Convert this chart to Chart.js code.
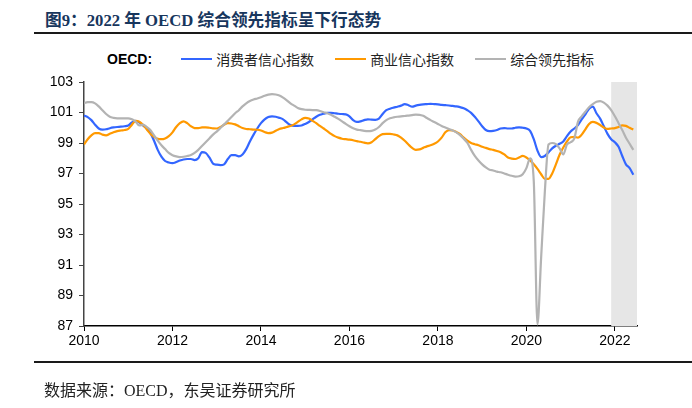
<!DOCTYPE html>
<html lang="zh">
<head>
<meta charset="utf-8">
<script src="https://cdn.jsdelivr.net/npm/chart.js@4.4.1/dist/chart.umd.min.js"></script>
<style>
  html, body { margin: 0; padding: 0; background: #fff; }
  body { width: 692px; height: 408px; position: relative; overflow: hidden; font-family: "Liberation Sans", Arial, sans-serif; }
  #chart { position: absolute; left: 0; top: 0; }
  .title { position: absolute; left: 45px; top: 7px; font: bold 16.7px "Liberation Serif", "Noto Sans CJK SC", serif; color: #17365d; white-space: nowrap; }
  .rule { position: absolute; left: 34px; right: 0; height: 2px; background: #1a1a1a; }
  .legend { position: absolute; left: 107px; top: 49px; display: flex; align-items: center; white-space: nowrap; }
  .legend .head { font: bold 14px "Liberation Sans", Arial, sans-serif; color: #000; margin-right: 29px; }
  .legend .item { display: flex; align-items: center; margin-right: 21px; font: 14px "Noto Sans CJK SC", sans-serif; color: #222; }
  .legend .swatch { width: 31px; height: 2.5px; margin-right: 4px; }
  .source { position: absolute; left: 44px; top: 377px; font: 16px "Liberation Serif", "Noto Sans CJK SC", serif; color: #222; white-space: nowrap; }
</style>
</head>
<body>
<div class="title">图9：2022 年 OECD 综合领先指标呈下行态势</div>
<div class="rule" style="top:32px"></div>
<div class="legend" id="legend"><span class="head">OECD:</span></div>
<canvas id="chart" width="692" height="408"></canvas>
<div class="rule" style="top:361px"></div>
<div class="source">数据来源：OECD，东吴证券研究所</div>
<script>
// monthly series, Jan 2010 .. Jun 2022 (one year per row)
const START_YEAR = 2010;
const SHADE_FROM = 2021 + 11 / 12;   // shaded window: Dec 2021 onward

const consumer = [
  100.8, 100.7, 100.5, 100.2, 99.95, 99.88, 99.9, 99.97, 100.02, 100.05, 100.07, 100.1,
  100.15, 100.35, 100.45, 100.35, 100.15, 99.95, 99.65, 99.15, 98.55, 98.1, 97.82, 97.72,
  97.68, 97.75, 97.85, 97.92, 97.95, 97.95, 97.88, 98.0, 98.4, 98.35, 98.05, 97.65,
  97.58, 97.55, 97.6, 97.95, 98.2, 98.2, 98.12, 98.25, 98.6, 99.1, 99.55, 99.95,
  100.3, 100.55, 100.7, 100.75, 100.72, 100.65, 100.55, 100.35, 100.18, 100.12, 100.12, 100.15,
  100.25, 100.38, 100.55, 100.72, 100.85, 100.92, 100.98, 100.98, 100.95, 100.92, 100.9, 100.88,
  100.75, 100.5, 100.38, 100.42, 100.5, 100.55, 100.53, 100.52, 100.6, 100.9, 101.15, 101.25,
  101.32, 101.38, 101.45, 101.55, 101.48, 101.38, 101.45, 101.5, 101.53, 101.55, 101.57, 101.55,
  101.53, 101.5, 101.48, 101.46, 101.43, 101.4, 101.35, 101.28, 101.15, 100.98, 100.72, 100.42,
  100.1, 99.85, 99.78, 99.8, 99.85, 99.95, 99.98, 99.95, 99.95, 100.0, 100.03, 100.0,
  99.95, 99.8, 99.25, 98.5, 98.08, 98.15, 98.38, 98.65, 98.82, 98.95, 99.1, 99.45,
  99.75, 99.95, 100.18, 100.55, 100.88, 101.25, 101.38, 100.95, 100.6, 100.1, 99.6, 99.25,
  99.05, 98.75, 98.15, 97.6, 97.35, 96.92
];

const business = [
  98.9, 99.25, 99.5, 99.65, 99.65, 99.55, 99.5, 99.6, 99.7, 99.78, 99.82, 99.85,
  99.92, 100.2, 100.45, 100.4, 100.2, 99.9, 99.6, 99.4, 99.28, 99.25, 99.3, 99.45,
  99.7, 100.05, 100.3, 100.42, 100.3, 100.1, 99.98, 99.97, 100.02, 100.03, 100.0, 99.96,
  99.95, 100.05, 100.2, 100.3, 100.28, 100.22, 100.1, 99.98, 99.92, 99.9, 99.88, 99.87,
  99.82, 99.72, 99.65, 99.68, 99.8, 99.92, 99.98, 100.05, 100.12, 100.22, 100.38, 100.55,
  100.65, 100.6, 100.45, 100.3, 100.12, 99.95, 99.78, 99.6, 99.45, 99.35, 99.28, 99.25,
  99.22, 99.18, 99.12, 99.08, 99.02, 98.98, 99.05, 99.25, 99.45, 99.58, 99.6, 99.6,
  99.56, 99.5, 99.35, 99.15, 98.9, 98.68, 98.55, 98.58, 98.68, 98.78, 98.85, 98.95,
  99.1, 99.35, 99.7, 99.85, 99.82, 99.72, 99.58, 99.35, 99.15, 99.0, 98.92, 98.85,
  98.75, 98.68, 98.6, 98.55, 98.48, 98.4, 98.25, 98.05, 97.98, 97.95, 98.05, 98.15,
  98.05, 97.85, 97.6, 97.3, 96.95, 96.65, 96.65, 97.0, 97.6, 98.23, 98.7, 99.1,
  99.38, 99.4, 99.35, 99.55, 99.9, 100.25, 100.38, 100.32, 100.18, 100.02, 99.92, 99.95,
  99.98, 100.05, 100.15, 100.12, 100.0, 99.88
];

const cli = [
  101.6, 101.68, 101.68, 101.6, 101.4, 101.15, 100.9, 100.72, 100.65, 100.62, 100.62, 100.62,
  100.62, 100.55, 100.4, 100.15, 100.2, 100.05, 99.85, 99.5, 99.15, 98.85, 98.6, 98.35,
  98.2, 98.12, 98.08, 98.1, 98.15, 98.22, 98.35, 98.55, 98.8, 99.05, 99.3, 99.55,
  99.75, 99.98, 100.22, 100.45, 100.7, 100.95, 101.15, 101.4, 101.6, 101.75, 101.85, 101.92,
  102.0, 102.1, 102.17, 102.2, 102.18, 102.12, 101.98, 101.8, 101.6, 101.45, 101.3, 101.22,
  101.18, 101.17, 101.16, 101.15, 101.1, 101.02, 100.95, 100.85, 100.72, 100.58, 100.42, 100.25,
  100.1, 99.97, 99.88, 99.84, 99.8, 99.78, 99.8, 99.88, 100.05, 100.3, 100.5, 100.62,
  100.68, 100.72, 100.75, 100.77, 100.8, 100.83, 100.86, 100.85, 100.78, 100.64, 100.5, 100.38,
  100.25, 100.12, 100.02, 99.92, 99.82, 99.7, 99.52, 99.28, 99.0, 98.55, 98.15, 97.85,
  97.6, 97.4, 97.25, 97.2, 97.12, 97.08, 97.0, 96.92, 96.85, 96.8, 96.82, 96.95,
  97.35, 98.0, 96.5, 87.1, 91.5, 95.8, 98.9, 99.0, 98.92, 98.65, 98.25, 98.9,
  99.05, 99.3, 100.4, 100.75, 101.05, 101.35, 101.55, 101.7, 101.75, 101.65, 101.45, 101.15,
  100.75, 100.3, 99.85, 99.35, 98.95, 98.55
];

const seriesNames = ['消费者信心指数', '商业信心指数', '综合领先指标'];
const seriesColors = ['#3366ff', '#ff9900', '#b3b3b3'];
const yTicks = { min: 87, max: 103, step: 2 };
const xTicks = { min: 2010, max: 2022.5, step: 2 };

const toPoints = arr => arr.map((v, i) => ({ x: START_YEAR + i / 12, y: v }));

// legend (html, so the "OECD:" lead-in sits in line with the items)
const legendEl = document.getElementById('legend');
seriesNames.forEach((name, i) => {
  const item = document.createElement('span');
  item.className = 'item';
  item.innerHTML = `<span class="swatch" style="background:${seriesColors[i]}"></span>${name}`;
  legendEl.appendChild(item);
});

// grey band for the latest months
const shadePlugin = {
  id: 'shade',
  beforeDatasetsDraw(chart) {
    const { ctx, chartArea, scales } = chart;
    const x0 = scales.x.getPixelForValue(SHADE_FROM);
    ctx.save();
    ctx.fillStyle = '#e6e6e6';
    ctx.fillRect(x0, chartArea.top, chartArea.right - x0, chartArea.bottom - chartArea.top);
    ctx.restore();
  }
};

const tickFont = { family: "'Liberation Sans', Arial, sans-serif", size: 14 };

new Chart(document.getElementById('chart').getContext('2d'), {
  type: 'line',
  data: {
    datasets: [consumer, business, cli].map((arr, i) => ({
      label: seriesNames[i],
      data: toPoints(arr),
      borderColor: seriesColors[i],
      borderWidth: 2.2,
      pointRadius: 0,
      cubicInterpolationMode: 'monotone',
      order: 2 - i
    }))
  },
  options: {
    responsive: false,
    animation: false,
    layout: { padding: { left: 34, right: 55, top: 82, bottom: 52 } },
    plugins: { legend: { display: false }, tooltip: { enabled: false } },
    scales: {
      x: {
        type: 'linear',
        min: xTicks.min,
        max: xTicks.max,
        afterFit: s => { s.height = 30; },
        ticks: { stepSize: xTicks.step, includeBounds: false, color: '#000', font: tickFont, padding: 2, maxRotation: 0, callback: v => String(v) },
        grid: { drawOnChartArea: false, tickLength: 5, color: '#000' },
        border: { color: '#000', width: 1.5 }
      },
      y: {
        min: yTicks.min,
        max: yTicks.max,
        afterFit: s => { s.width = 50; },
        ticks: { stepSize: yTicks.step, color: '#000', font: tickFont, padding: 6 },
        grid: { drawOnChartArea: false, tickLength: 5, color: '#444' },
        border: { color: '#444', width: 1.5 }
      }
    }
  },
  plugins: [shadePlugin]
});
</script>
</body>
</html>
